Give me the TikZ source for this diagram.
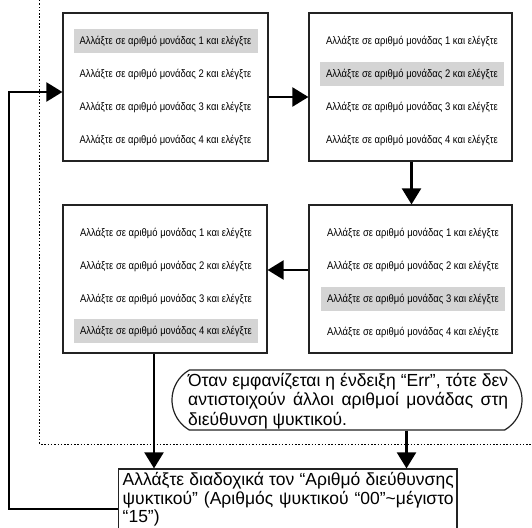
\documentclass[tikz,border=0pt]{standalone}
\usepackage{fontspec}
\setmainfont{Liberation Sans}
\newfontfamily\narrowfont{Liberation Sans}[FakeStretch=0.86]
\usetikzlibrary{arrows.meta,shapes.misc}
\definecolor{hl}{RGB}{212,212,212}
\definecolor{bd}{RGB}{35,35,35}
\begin{document}
\begin{tikzpicture}[x=1pt,y=-1pt,
  box/.style={draw=bd, line width=1.2pt, inner sep=0pt},
  row/.style={font=\narrowfont\fontsize{11}{13}\selectfont, inner sep=0pt, minimum width=184pt, minimum height=24pt},
  hrow/.style={row, fill=hl},
  conn/.style={line width=2.2pt, -{Triangle[length=16pt,width=19pt]}},
  dotline/.style={line width=1pt, dash pattern=on 1.5pt off 1.8pt},
  txt/.style={font=\fontsize{17.5}{19.5}\selectfont, anchor=base west, inner sep=0pt},
  btxt/.style={font=\fontsize{17.5}{18.5}\selectfont, anchor=base west, inner sep=0pt}]
\useasboundingbox (0,0) rectangle (532,527);
\fill[white] (0,0) rectangle (532,527);
\draw[dotline] (39.5,0) -- (39.5,444) -- (532,444);

% box A (top left)
\node[box, minimum width=205pt, minimum height=148pt] (A) at (165.5,87) {};
\node[hrow] (A1) at (165.5,41) {Αλλάξτε σε αριθμό μονάδας 1 και ελέγξτε};
\node[row] (A2) at (165.5,74) {Αλλάξτε σε αριθμό μονάδας 2 και ελέγξτε};
\node[row] (A3) at (165.5,107) {Αλλάξτε σε αριθμό μονάδας 3 και ελέγξτε};
\node[row] (A4) at (165.5,140) {Αλλάξτε σε αριθμό μονάδας 4 και ελέγξτε};

% box B (top right)
\node[box, minimum width=203pt, minimum height=148pt] (B) at (410.5,87) {};
\node[row] (B1) at (412,41) {Αλλάξτε σε αριθμό μονάδας 1 και ελέγξτε};
\node[hrow] (B2) at (412,74) {Αλλάξτε σε αριθμό μονάδας 2 και ελέγξτε};
\node[row] (B3) at (412,107) {Αλλάξτε σε αριθμό μονάδας 3 και ελέγξτε};
\node[row] (B4) at (412,140) {Αλλάξτε σε αριθμό μονάδας 4 και ελέγξτε};

% box C (middle right)
\node[box, minimum width=203pt, minimum height=148pt] (C) at (410.5,279) {};
\node[row] (C1) at (413,233) {Αλλάξτε σε αριθμό μονάδας 1 και ελέγξτε};
\node[row] (C2) at (413,266) {Αλλάξτε σε αριθμό μονάδας 2 και ελέγξτε};
\node[hrow] (C3) at (413,299) {Αλλάξτε σε αριθμό μονάδας 3 και ελέγξτε};
\node[row] (C4) at (413,332) {Αλλάξτε σε αριθμό μονάδας 4 και ελέγξτε};

% box D (middle left)
\node[box, minimum width=204pt, minimum height=148pt] (D) at (165,279) {};
\node[row] (D1) at (166,233) {Αλλάξτε σε αριθμό μονάδας 1 και ελέγξτε};
\node[row] (D2) at (166,266) {Αλλάξτε σε αριθμό μονάδας 2 και ελέγξτε};
\node[row] (D3) at (166,299) {Αλλάξτε σε αριθμό μονάδας 3 και ελέγξτε};
\node[hrow] (D4) at (166,331) {Αλλάξτε σε αριθμό μονάδας 4 και ελέγξτε};

% callout E
\node[draw=bd, line width=1.2pt, rounded rectangle, rounded rectangle arc length=120,
      minimum width=350pt, minimum height=60pt, inner sep=0pt] (E) at (347,400) {};
\node[txt] (Et) at (188,386) {\parbox[t]{320pt}{\makebox[320pt][s]{Όταν εμφανίζεται η ένδειξη “Err”, τότε δεν}\\\makebox[320pt][s]{αντιστοιχούν άλλοι αριθμοί μονάδας στη}\\διεύθυνση ψυκτικού.}};

% bottom box F
\node[box, minimum width=338.5pt, minimum height=72pt] (F) at (287.75,505) {};
\node[btxt] (Ft) at (122.5,485.5) {\parbox[t]{331pt}{\makebox[331pt][s]{Αλλάξτε διαδοχικά τον “Αριθμό διεύθυνσης}\\\makebox[331pt][s]{ψυκτικού” (Αριθμός ψυκτικού “00”\textasciitilde μέγιστο}\\“15”)}};

% connectors
\coordinate (yab) at (0,97);
\coordinate (ycd) at (0,270);
\coordinate (xbc) at (411.5,0);
\coordinate (xd) at (154,0);
\coordinate (xe) at (406.5,0);
\coordinate (L1) at (9,509);
\coordinate (L2) at (9,92);
\draw[conn] (A.east |- yab) -- (B.west |- yab);
\draw[conn] (B.south -| xbc) -- (C.north -| xbc);
\draw[conn] (C.west |- ycd) -- (D.east |- ycd);
\draw[conn] (D.south -| xd) -- (F.north -| xd);
\draw[conn] (E.south -| xe) -- (F.north -| xe);
\draw[conn] (F.west |- L1) -- (L1) -- (L2) -- (A.west |- L2);
\end{tikzpicture}
\end{document}
